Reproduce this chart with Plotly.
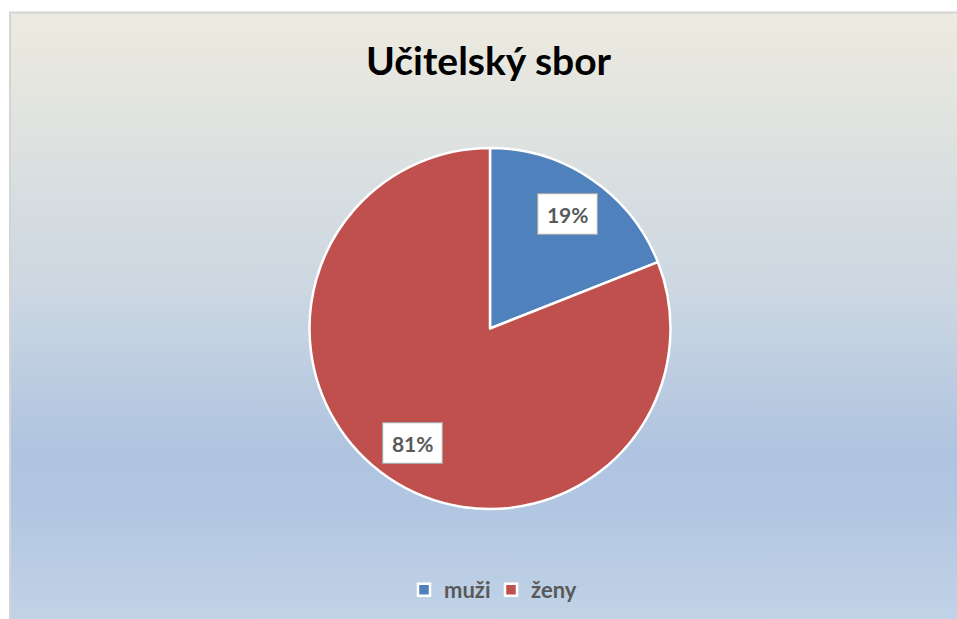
import math
import base64
import plotly.graph_objects as go

# ---- data ----
categories = ["muži", "ženy"]
values = [19, 81]
colors = ["#4F81BD", "#C0504D"]
title_text = "Učitelský sbor"

# ---- layout geometry (pixels) ----
W, H = 957, 619


def fx(px):
    return px / W


def fy(py):
    return 1 - py / H


cx, cy, r = 490, 328.5, 180.5
domain_x = [fx(cx - r), fx(cx + r)]
domain_y = [fy(cy + r), fy(cy - r)]

fig = go.Figure(go.Pie(
    labels=categories, values=values, sort=False,
    direction="clockwise", rotation=0,
    marker=dict(colors=colors, line=dict(color="white", width=2.5)),
    textinfo="none", hoverinfo="label+percent",
    domain=dict(x=domain_x, y=domain_y),
))

# percentage labels in white boxes, placed along each slice's mid-angle
total = sum(values)
cum = 0
annotations = []
for v in values:
    mid = (cum + v / 2) / total * 2 * math.pi
    cum += v
    px = cx + 0.765 * r * math.sin(mid)
    py = cy - 0.765 * r * math.cos(mid)
    annotations.append(dict(
        x=fx(px), y=fy(py), xref="paper", yref="paper",
        text=f"{round(v / total * 100)}%", showarrow=False,
        font=dict(family="Lato", size=21, color="#595959", weight="bold"),
        bgcolor="white", bordercolor="#A6A6A6", borderwidth=1.2,
        borderpad=7, width=45, height=26,
        xanchor="center", yanchor="middle",
    ))

annotations.append(dict(
    x=fx(488.5), y=fy(59.5), xref="paper", yref="paper",
    text=title_text, showarrow=False,
    font=dict(family="Lato", size=39, color="#000000", weight="bold"),
    xanchor="center", yanchor="middle",
))

svg = """<svg xmlns='http://www.w3.org/2000/svg' width='948' height='607' preserveAspectRatio='none' viewBox='0 0 948 607'>
<defs><linearGradient id='g' x1='0' y1='0' x2='0' y2='1'>
<stop offset='0' stop-color='#EDEBE0'/>
<stop offset='0.15' stop-color='#E2E4DF'/>
<stop offset='0.45' stop-color='#CCD7E2'/>
<stop offset='0.71' stop-color='#AFC4E0'/>
<stop offset='0.80' stop-color='#B1C6E1'/>
<stop offset='1' stop-color='#C3D4E7'/>
</linearGradient></defs>
<rect x='0' y='0' width='948' height='607' fill='url(#g)'/>
</svg>"""
src = "data:image/svg+xml;base64," + base64.b64encode(svg.encode()).decode()

fig.update_layout(
    width=W, height=H,
    margin=dict(l=0, r=0, t=0, b=0),
    paper_bgcolor="white",
    showlegend=True,
    legend=dict(
        orientation="h", x=fx(491), xanchor="center",
        y=fy(590), yanchor="middle",
        font=dict(family="Lato", size=22, color="#595959", weight="bold"),
        bgcolor="rgba(0,0,0,0)", itemwidth=30, traceorder="normal",
        entrywidth=42, entrywidthmode="pixels",
    ),
    annotations=annotations,
    images=[dict(
        source=src, xref="paper", yref="paper",
        x=fx(9), y=fy(12), sizex=1.0, sizey=1.0,
        xanchor="left", yanchor="top", sizing="stretch", layer="below",
    )],
    shapes=[dict(
        type="rect", xref="paper", yref="paper",
        x0=fx(10), x1=1.05, y0=-0.05, y1=fy(12.5),
        line=dict(color="#D4D4D4", width=2), layer="above",
    )],
)

fig.write_html(
    "out.html",
    config={"displayModeBar": False},
    post_script="document.body.style.margin='0';document.body.style.overflow='hidden';",
)
